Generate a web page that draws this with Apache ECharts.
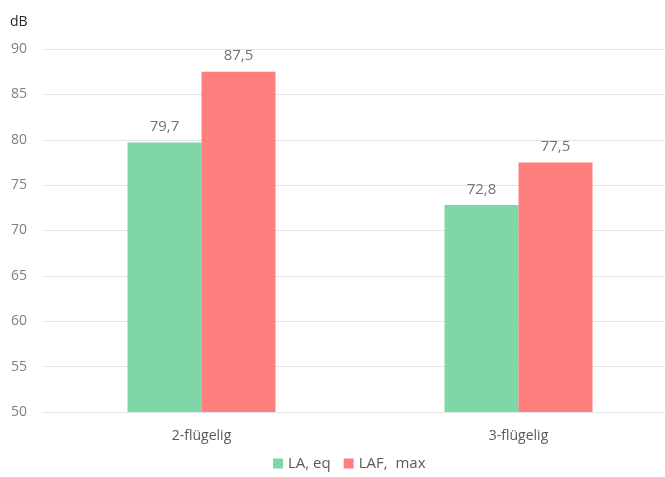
<!DOCTYPE html>
<html>
<head>
<meta charset="utf-8">
<script src="https://cdn.jsdelivr.net/npm/echarts@6/dist/echarts.min.js"></script>
<style>
  html, body { margin: 0; padding: 0; background: #fff; overflow: hidden; }
  #chart { width: 677px; height: 477px; }
</style>
</head>
<body>
<div id="chart"></div>
<script>
// Schallpegel je Türvariante
const categories = ['2-flügelig', '3-flügelig'];
const laEq = [79.7, 72.8];
const lafMax = [87.5, 77.5];
const seriesNames = ['LA, eq', 'LAF,  max'];

const fontFamily = '"Open Sans", "Noto Sans", sans-serif';
const fmt = v => String(v.value !== undefined ? v.value : v).replace('.', ',');

const chart = echarts.init(document.getElementById('chart'));
chart.setOption({
  animation: false,
  textStyle: { fontFamily },
  grid: { left: 43, top: 49, right: 0, bottom: 65, containLabel: false },
  legend: {
    bottom: 1,
    left: 268,
    itemWidth: 10,
    itemHeight: 10,
    itemGap: 13,
    icon: 'rect',
    textStyle: { color: '#595959', fontSize: 15, fontFamily },
    data: seriesNames
  },
  xAxis: {
    type: 'category',
    data: categories,
    axisLine: { show: true, lineStyle: { color: '#e3e3e3' } },
    axisTick: { show: false },
    axisLabel: { color: '#595959', fontSize: 14, margin: 17 }
  },
  yAxis: {
    type: 'value',
    name: 'dB',
    nameLocation: 'end',
    nameGap: 20,
    nameTextStyle: { color: '#262626', fontSize: 14, align: 'left', padding: [0, 0, 0, -33] },
    min: 50,
    max: 90,
    interval: 5,
    axisLine: { show: false },
    axisTick: { show: false },
    axisLabel: { color: '#7f7f7f', fontSize: 14, margin: 16 },
    splitLine: { lineStyle: { color: '#e3e3e3' } }
  },
  series: [
    {
      name: seriesNames[0],
      type: 'bar',
      data: laEq,
      barWidth: 74,
      barGap: '0%',
      itemStyle: { color: '#68D098', opacity: 0.85 },
      label: { show: true, position: 'top', distance: 8, color: '#595959', fontSize: 15, formatter: fmt }
    },
    {
      name: seriesNames[1],
      type: 'bar',
      data: lafMax,
      barWidth: 74,
      barGap: '0%',
      itemStyle: { color: '#FF6868', opacity: 0.85 },
      label: { show: true, position: 'top', distance: 8, color: '#595959', fontSize: 15, formatter: fmt }
    }
  ]
});
</script>
</body>
</html>
